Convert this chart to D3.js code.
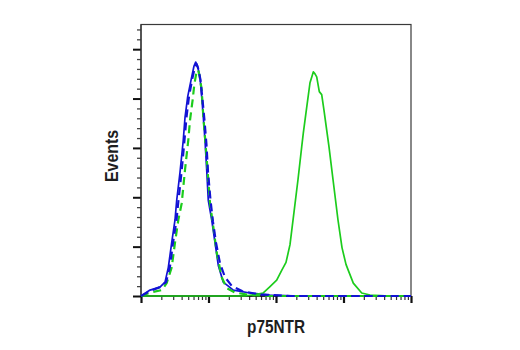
<!DOCTYPE html>
<html>
<head>
<meta charset="utf-8">
<script src="https://cdn.jsdelivr.net/npm/d3@7"></script>
<style>
  html, body { margin: 0; padding: 0; background: #fff; }
  svg { display: block; }
  text { font-family: "Liberation Sans", Arial, Helvetica, sans-serif; font-weight: bold; fill: #1e1e1e; }
</style>
</head>
<body>
<svg id="chart" width="520" height="350"></svg>
<script>
// Flow cytometry histograms: fluorescence intensity (log) vs. event counts.
// Each series is a list of [intensity, count] pairs.

// Isotype / unstained control, solid blue
const controlSolid = [
  [1, 0], [1.36, 6], [1.91, 9], [2.27, 14], [2.54, 29], [2.85, 54], [3.19, 77],
  [3.38, 97], [3.78, 125], [4.23, 158], [4.49, 181], [4.92, 202], [5.64, 222],
  [6.10, 233], [6.46, 237], [6.87, 233], [7.48, 222], [7.93, 202], [8.38, 181],
  [8.87, 158], [9.40, 128], [9.93, 97], [11.15, 77], [12.49, 54], [13.97, 31],
  [16.57, 14], [23.3, 6], [41.2, 3], [81.5, 1], [226.8, 0], [10000, 0]
];

// Second control, dashed blue
const controlDashed = [
  [1, 0], [1.36, 5], [1.91, 9], [2.35, 14], [2.69, 30], [2.98, 54], [3.36, 77],
  [3.59, 97], [3.98, 125], [4.41, 158], [4.72, 181], [5.14, 202], [5.79, 221],
  [6.31, 232], [6.64, 235], [6.99, 231], [7.61, 219], [8.15, 199], [8.72, 178],
  [9.34, 153], [9.83, 126], [10.71, 97], [11.66, 75], [12.92, 54], [14.81, 33],
  [17.55, 19], [22.29, 10], [31.35, 5], [57.9, 1.5], [161.2, 0], [10000, 0]
];

// Negative cell line, dashed green
const negativeDashed = [
  [1, 0], [1.36, 3.5], [2.03, 6], [2.40, 13], [2.85, 29], [3.19, 54], [3.57, 77],
  [4.01, 94], [4.49, 128], [5.02, 158], [5.32, 178], [5.83, 199], [6.16, 214],
  [6.64, 227], [6.99, 229], [7.31, 224], [7.93, 209], [8.38, 181], [8.87, 161],
  [9.67, 128], [10.53, 94], [11.78, 70], [13.23, 44], [15.69, 19], [18.61, 8],
  [24.70, 3.5], [41.2, 1], [81.5, 0], [10000, 0]
];

// p75NTR-positive cells, solid green
const positiveSolid = [
  [1, 0], [34.7, 0], [48.9, 1.5], [64.2, 3], [81.5, 9.6], [102.4, 16], [121.5, 26],
  [140.7, 34], [161.2, 52], [184.8, 85], [211.8, 118], [240.3, 151], [253.8, 165],
  [285.0, 191], [318.9, 216], [357.0, 227], [378.2, 225], [400.9, 222], [438.0, 207],
  [475.4, 204], [514.2, 188], [563.8, 168], [609.9, 151], [699.0, 118], [828.9, 77],
  [950.2, 49], [1089, 32], [1178, 26], [1397, 13], [1861, 3], [2470, 1], [4886, 0],
  [10000, 0]
];

// Axis ticks (the axes carry no numeric labels)
const xMajorTicks = [1, 10, 100, 1000, 10000];
const xMinorTicks = [];
[1, 10, 100, 1000].forEach(p => [2, 3, 4, 5, 6, 7, 8, 9].forEach(m => xMinorTicks.push(p * m)));
const yMajorTicks = [0, 50, 100, 150, 200, 250];
const yMinorTicks = d3.range(0, 280, 10).filter(v => v % 50 !== 0);

const xLabel = "p75NTR";
const yLabel = "Events";

const svg = d3.select("#chart");
const plotLeft = 141, plotRight = 411, plotTop = 24.5, plotBottom = 296;

const x = d3.scaleLog().domain([1, 10000]).range([plotLeft, plotRight]);
const y = d3.scaleLinear().domain([0, 275]).range([plotBottom, plotTop]);

// Plot frame
svg.append("rect")
  .attr("x", plotLeft).attr("y", plotTop)
  .attr("width", plotRight - plotLeft).attr("height", plotBottom - plotTop)
  .attr("fill", "none").attr("stroke", "#3a3a3a").attr("stroke-width", 1.2);

// Y axis ticks
const yMinorAxis = d3.axisLeft(y).tickValues(yMinorTicks).tickSize(4).tickFormat("");
const yMajorAxis = d3.axisLeft(y).tickValues(yMajorTicks).tickSize(8).tickFormat("");
svg.append("g").attr("transform", `translate(${plotLeft},0)`).call(yMinorAxis)
  .call(g => g.select(".domain").remove())
  .selectAll("line").attr("stroke", "#444").attr("stroke-width", 1.3);
svg.append("g").attr("transform", `translate(${plotLeft},0)`).call(yMajorAxis)
  .call(g => g.select(".domain").remove())
  .selectAll("line").attr("stroke", "#111").attr("stroke-width", 2);

// X axis ticks
const xMinorAxis = d3.axisBottom(x).tickValues(xMinorTicks).tickSize(4).tickFormat("");
const xMajorAxis = d3.axisBottom(x).tickValues(xMajorTicks).tickSize(7).tickFormat("");
svg.append("g").attr("transform", `translate(0,${plotBottom})`).call(xMinorAxis)
  .call(g => g.select(".domain").remove())
  .selectAll("line").attr("stroke", "#333").attr("stroke-width", 1.2);
svg.append("g").attr("transform", `translate(0,${plotBottom})`).call(xMajorAxis)
  .call(g => g.select(".domain").remove())
  .selectAll("line").attr("stroke", "#111").attr("stroke-width", 2.2);

// Axis baselines
svg.append("line").attr("x1", plotLeft).attr("x2", plotRight).attr("y1", plotBottom).attr("y2", plotBottom)
  .attr("stroke", "#111").attr("stroke-width", 1.6);
svg.append("line").attr("x1", plotLeft).attr("x2", plotLeft).attr("y1", plotTop).attr("y2", plotBottom)
  .attr("stroke", "#333").attr("stroke-width", 1.2);

const line = d3.line().x(d => x(d[0])).y(d => y(d[1])).curve(d3.curveLinear);

const blue = "#1212d4";
const green = "#1ccc1c";

const series = [
  { data: controlSolid, color: blue, dash: null, width: 1.7 },
  { data: positiveSolid, color: green, dash: null, width: 1.7 },
  { data: negativeDashed, color: green, dash: "8,5", width: 2.2 },
  { data: controlDashed, color: blue, dash: "8,5", width: 2.2 }
];

series.forEach(s => {
  svg.append("path")
    .datum(s.data)
    .attr("d", line)
    .attr("fill", "none")
    .attr("stroke", s.color)
    .attr("stroke-width", s.width)
    .attr("stroke-linejoin", "round")
    .attr("stroke-dasharray", s.dash);
});

// Axis titles (condensed bold)
svg.append("text")
  .attr("x", 276).attr("y", 333)
  .attr("text-anchor", "middle")
  .attr("textLength", 58)
  .attr("lengthAdjust", "spacingAndGlyphs")
  .style("font-size", "19px")
  .text(xLabel);

svg.append("text")
  .attr("transform", `translate(118,156) rotate(-90)`)
  .attr("text-anchor", "middle")
  .attr("textLength", 52)
  .attr("lengthAdjust", "spacingAndGlyphs")
  .style("font-size", "19px")
  .text(yLabel);
</script>
</body>
</html>
